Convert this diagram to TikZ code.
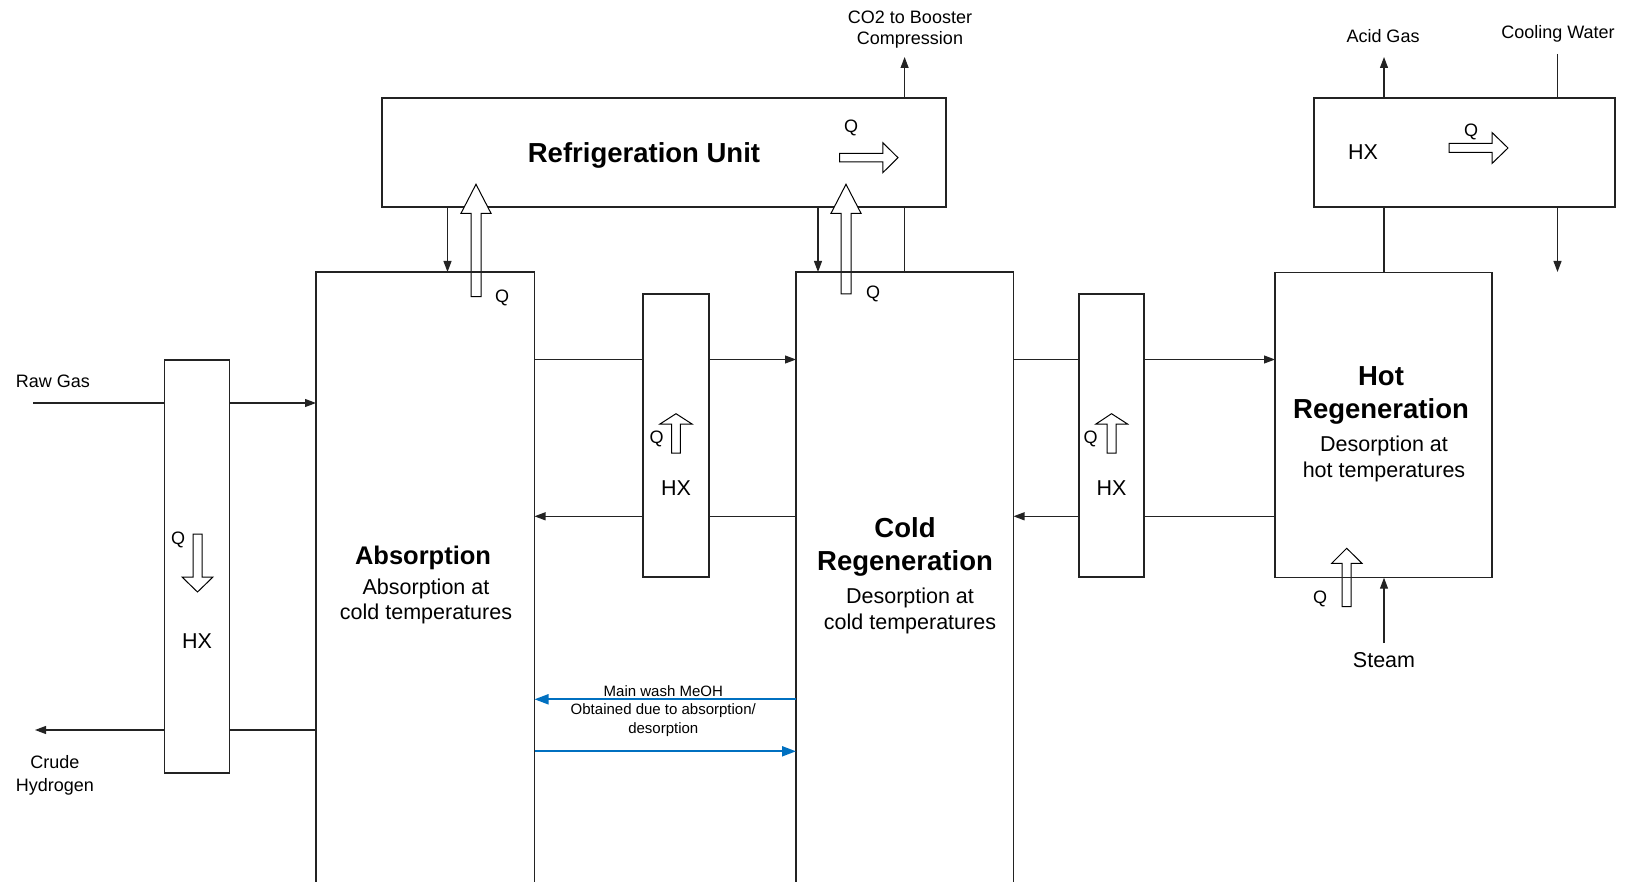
\documentclass[tikz,border=0pt]{standalone}
\usepackage{fontspec}
\setmainfont{Liberation Sans}
\usetikzlibrary{arrows.meta}
\definecolor{flowblue}{RGB}{0,112,192}
\definecolor{ln}{RGB}{35,35,35}
\begin{document}
\begin{tikzpicture}[x=1pt,y=-1pt,
  unit/.style={draw=ln, line width=1.1pt, inner sep=0pt, outer sep=0pt},
  wbox/.style={unit, fill=white},
  flow/.style={draw=ln, line width=1.1pt},
  flowarr/.style={flow, -{Triangle[length=11pt,width=8pt]}},
  meoh/.style={draw=flowblue, line width=2pt, -{Triangle[length=14pt,width=10pt]}},
  heat/.style={draw=black, line width=1pt, fill=white, line join=miter},
  lab/.style={inner sep=0pt, font=\fontsize{18}{21.5}\selectfont, align=center},
  mid/.style={inner sep=0pt, font=\fontsize{21.5}{25.5}\selectfont, align=center},
  ttl/.style={inner sep=0pt, font=\fontsize{27.5}{33.5}\selectfont\bfseries, align=center},
  sml/.style={inner sep=0pt, font=\fontsize{15}{18.5}\selectfont, align=center}
]
\useasboundingbox (0,0) rectangle (1625,882);

% ---- boxes filled white
\node[wbox, minimum width=564pt, minimum height=109pt] (ref) at (664,152.5) {};
\node[wbox, minimum width=301pt, minimum height=109pt] (hxr) at (1464.5,152.5) {};
\node[wbox, minimum width=65pt, minimum height=413pt] (hx1) at (197,566.5) {};
\node[wbox, minimum width=66pt, minimum height=283pt] (hx2) at (676,435.5) {};
\node[wbox, minimum width=65pt, minimum height=283pt] (hx3) at (1111.5,435.5) {};

% ---- hollow heat arrows
\draw[heat] (471,296.7) -- (471,213.3) -- (461,213.3) -- (476,184.3) -- (491,213.3) -- (481,213.3) -- (481,296.7) -- cycle;
\draw[heat] (841,294) -- (841,213.3) -- (831,213.3) -- (846,184.3) -- (861,213.3) -- (851,213.3) -- (851,294) -- cycle;
\draw[heat] (839.6,153.3) -- (882.8,153.3) -- (882.8,142.7) -- (898,157.7) -- (882.8,172.7) -- (882.8,162) -- (839.6,162) -- cycle;
\draw[heat] (1449,143.5) -- (1492,143.5) -- (1492,132.5) -- (1508,148) -- (1492,163.5) -- (1492,152.5) -- (1449,152.5) -- cycle;
\draw[heat] (193,534) -- (193,577) -- (182,577) -- (197.5,592) -- (213,577) -- (202,577) -- (202,534) -- cycle;
\draw[heat] (671.7,453) -- (671.7,424) -- (660,424) -- (676,413.7) -- (692,424) -- (680.3,424) -- (680.3,453) -- cycle;
\draw[heat] (1107,453) -- (1107,424) -- (1096,424) -- (1111.5,413.7) -- (1127.5,424) -- (1116,424) -- (1116,453) -- cycle;
\draw[heat] (1342,606.7) -- (1342,563.3) -- (1331.7,563.3) -- (1346.7,548.3) -- (1362,563.3) -- (1351,563.3) -- (1351,606.7) -- cycle;

% ---- columns (outline only)
\node[unit, minimum width=218.5pt, minimum height=612pt] (abs) at (425.25,578) {};
\node[unit, minimum width=217.5pt, minimum height=612pt] (cold) at (904.75,578) {};
\node[unit, minimum width=217pt, minimum height=305pt] (hot) at (1383.5,425.2) {};

% ---- free ends
\coordinate (rawin) at (33,403);
\coordinate (h2out) at (35,730);
\coordinate (co2) at (904.6,57);
\coordinate (acid) at (1384,57);
\coordinate (cwin) at (1557.5,54);
\coordinate (cwout) at (1557.5,272);
\coordinate (steam) at (1384,643);
\coordinate (ya) at (0,359.5);
\coordinate (yb) at (0,516.3);
\coordinate (ba) at (0,699.3);
\coordinate (bb) at (0,751.3);
\coordinate (da) at (447.5,0);
\coordinate (db) at (818,0);

% ---- connectors
\draw[flow] (rawin) -- (rawin -| hx1.west);
\draw[flowarr] (rawin -| hx1.east) -- (rawin -| abs.west);
\draw[flow] (h2out -| abs.west) -- (h2out -| hx1.east);
\draw[flowarr] (h2out -| hx1.west) -- (h2out);

\draw[flow] (ya -| abs.east) -- (ya -| hx2.west);
\draw[flowarr] (ya -| hx2.east) -- (ya -| cold.west);
\draw[flow] (yb -| cold.west) -- (yb -| hx2.east);
\draw[flowarr] (yb -| hx2.west) -- (yb -| abs.east);

\draw[flow] (ya -| cold.east) -- (ya -| hx3.west);
\draw[flowarr] (ya -| hx3.east) -- (ya -| hot.west);
\draw[flow] (yb -| hot.west) -- (yb -| hx3.east);
\draw[flowarr] (yb -| hx3.west) -- (yb -| cold.east);

\draw[meoh] (ba -| cold.west) -- (ba -| abs.east);
\draw[meoh] (bb -| abs.east) -- (bb -| cold.west);

\draw[flowarr] (da |- ref.south) -- (da |- abs.north);
\draw[flowarr] (db |- ref.south) -- (db |- cold.north);
\draw[flow] (co2 |- ref.south) -- (co2 |- cold.north);
\draw[flowarr] (co2 |- ref.north) -- (co2);

\draw[flow] (acid |- hot.north) -- (acid |- hxr.south);
\draw[flowarr] (acid |- hxr.north) -- (acid);
\draw[flow] (cwin) -- (cwin |- hxr.north);
\draw[flowarr] (cwout |- hxr.south) -- (cwout);
\draw[flowarr] (steam) -- (steam |- hot.south);

% ---- texts
\node[lab] (tco2) at (910,29.5) {CO2 to Booster\\Compression};
\node[lab] (tacid) at (1383,36.5) {Acid Gas};
\node[lab] (tcw) at (1558,34) {Cooling Water};
\node[ttl] (tref) at (644,155) {Refrigeration Unit};
\node[lab] (qref) at (851,128) {Q};
\node[mid] (thxr) at (1363,152) {HX};
\node[lab] (qhxr) at (1471,131.5) {Q};
\node[lab] (qa) at (502,297.5) {Q};
\node[lab] (qc) at (873,293.5) {Q};

\node[lab] (traw) at (53,381) {Raw Gas};
\node[lab, font=\fontsize{18}{22.8}\selectfont] (th2) at (55,775.5) {Crude\\Hydrogen};
\node[lab] (q1) at (178,540) {Q};
\node[mid] (thx1) at (197,641) {HX};

\node[ttl, font=\fontsize{25.5}{31}\selectfont\bfseries] (tabs) at (423,558) {Absorption};
\node[mid] (tabs2) at (426,601.5) {Absorption at\\cold temperatures};

\node[lab] (q2) at (656.7,439) {Q};
\node[mid] (thx2) at (676,488) {HX};
\node[lab] (q3) at (1090.7,439) {Q};
\node[mid] (thx3) at (1111.5,488) {HX};

\node[ttl] (tcold) at (905,547) {Cold\\Regeneration};
\node[mid] (tcold2) at (910,611) {Desorption at\\cold temperatures};

\node[ttl] (thot) at (1381,395.5) {Hot\\Regeneration};
\node[mid] (thot2) at (1384,459) {Desorption at\\hot temperatures};
\node[lab] (qh) at (1320,599.3) {Q};
\node[mid] (tsteam) at (1384,660) {Steam};

\node[sml] (tmeoh) at (663.3,711) {Main wash MeOH\\Obtained due to absorption/\\desorption};
\end{tikzpicture}
\end{document}
